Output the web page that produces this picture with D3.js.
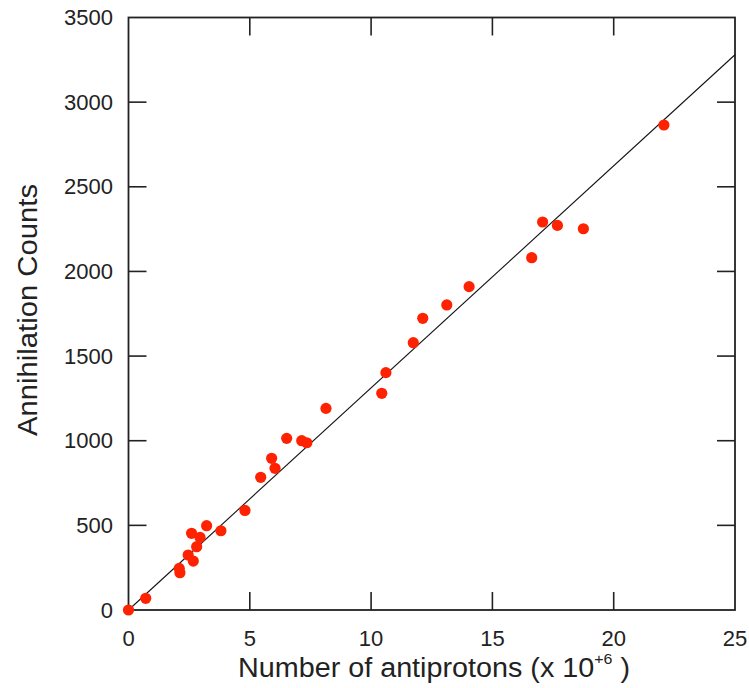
<!DOCTYPE html>
<html><head><meta charset="utf-8">
<script src="https://cdn.jsdelivr.net/npm/d3@7/dist/d3.min.js"></script>
<style>body{margin:0;background:#fff}svg{display:block}text{font-family:"Liberation Sans",Arial,sans-serif;fill:#222}</style>
</head><body><svg id="c" width="749" height="688"></svg>
<script>
// data (x in units of 1e6 antiprotons, y = annihilation counts)
const antiprotons = [0,0.71,2.12,2.09,2.67,2.46,2.81,2.95,2.60,3.22,3.81,4.80,5.45,6.04,5.90,6.52,7.14,7.35,8.14,10.44,10.61,11.74,12.13,13.12,14.04,16.62,17.07,17.68,18.75,22.07];
const counts      = [0,69,220,246,289,325,374,429,453,498,468,588,784,837,896,1014,1000,988,1191,1280,1402,1579,1723,1802,1910,2081,2292,2272,2252,2865];
const fitLine = [[0,0],[25,3280]];
const xTicks = [0,5,10,15,20,25];
const yTicks = [0,500,1000,1500,2000,2500,3000,3500];

const svg = d3.select("#c");
const L=128.5,R=735,T=17.5,B=610;
const x = d3.scaleLinear().domain([0,25]).range([L,R]);
const y = d3.scaleLinear().domain([0,3500]).range([B,T]);
const tl = 18;

const g = svg.append("g");
xTicks.slice(1,-1).forEach(t=>{
  g.append("line").attr("x1",x(t)).attr("x2",x(t)).attr("y1",B).attr("y2",B-tl).attr("stroke","#222").attr("stroke-width",1.6);
  g.append("line").attr("x1",x(t)).attr("x2",x(t)).attr("y1",T).attr("y2",T+tl).attr("stroke","#222").attr("stroke-width",1.6);
});
yTicks.slice(1,-1).forEach(t=>{
  g.append("line").attr("y1",y(t)).attr("y2",y(t)).attr("x1",L).attr("x2",L+tl).attr("stroke","#222").attr("stroke-width",1.6);
  g.append("line").attr("y1",y(t)).attr("y2",y(t)).attr("x1",R).attr("x2",R-tl).attr("stroke","#222").attr("stroke-width",1.6);
});
g.append("rect").attr("x",L).attr("y",T).attr("width",R-L).attr("height",B-T).attr("fill","none").attr("stroke","#222").attr("stroke-width",1.8);

xTicks.forEach(t=>{
  svg.append("text").attr("x",x(t)).attr("y",646).attr("text-anchor","middle").attr("font-size",22).text(t);
});
yTicks.forEach(t=>{
  svg.append("text").attr("x",113).attr("y",y(t)+7.5).attr("text-anchor","end").attr("font-size",22).text(t);
});

svg.append("path").attr("d",d3.line().x(d=>x(d[0])).y(d=>y(d[1]))(fitLine)).attr("stroke","#111").attr("stroke-width",1.1).attr("fill","none");

svg.append("g").selectAll("circle").data(antiprotons.map((v,i)=>[v,counts[i]])).join("circle")
  .attr("cx",d=>x(d[0])).attr("cy",d=>y(d[1])).attr("r",5.6).attr("fill","#ff2200");

svg.append("text").attr("transform","translate(37,310) rotate(-90)").attr("text-anchor","middle").attr("font-size",27)
  .attr("textLength",252).attr("lengthAdjust","spacingAndGlyphs").text("Annihilation Counts");
const xt = svg.append("text").attr("x",434).attr("y",677).attr("text-anchor","middle").attr("font-size",27)
  .attr("textLength",392).attr("lengthAdjust","spacingAndGlyphs");
xt.append("tspan").text("Number of antiprotons (x 10");
xt.append("tspan").attr("font-size",15).attr("dy",-13).text("+6");
xt.append("tspan").attr("dy",13).text(" )");
</script></body></html>
